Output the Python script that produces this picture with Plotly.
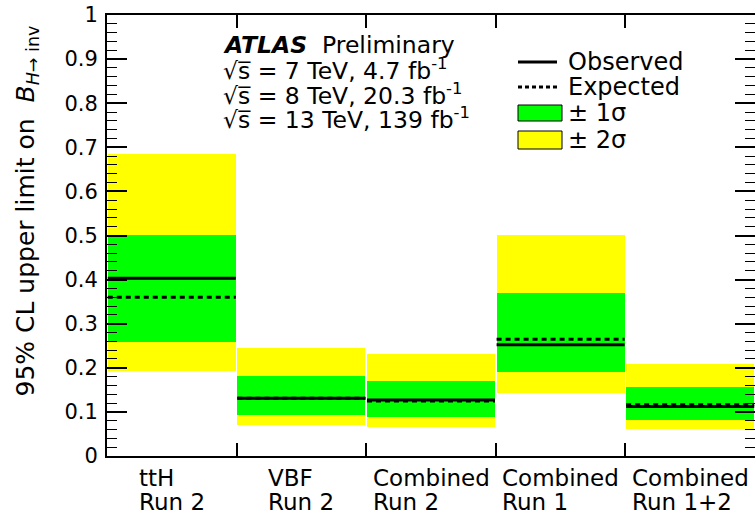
import plotly.graph_objects as go

# ---- data ----
categories = ["ttH<br>Run 2", "VBF<br>Run 2", "Combined<br>Run 2", "Combined<br>Run 1", "Combined<br>Run 1+2"]
observed = [0.403, 0.131, 0.127, 0.252, 0.112]
expected = [0.360, 0.131, 0.125, 0.265, 0.116]
band1_lo = [0.259, 0.093, 0.089, 0.191, 0.082]
band1_hi = [0.501, 0.181, 0.171, 0.370, 0.157]
band2_lo = [0.193, 0.070, 0.066, 0.142, 0.061]
band2_hi = [0.684, 0.244, 0.231, 0.501, 0.209]
y_ticks = [0, 0.1, 0.2, 0.3, 0.4, 0.5, 0.6, 0.7, 0.8, 0.9, 1]

W, H = 755, 511
ML, MR, MT, MB = 107, 0, 15, 55
PW, PH = W - ML - MR, H - MT - MB
FONT = "DejaVu Sans, Liberation Sans, Arial, sans-serif"

def px(x):
    return (x - ML) / PW

def py(y):
    return (H - MB - y) / PH

n = len(categories)
centers = [i + 0.5 for i in range(n)]
bw = 0.988

fig = go.Figure()
fig.add_trace(go.Bar(x=centers, y=[h - l for h, l in zip(band2_hi, band2_lo)], base=band2_lo,
                     width=bw, marker=dict(color="#ffff00", line=dict(width=0)), showlegend=False,
                     hoverinfo="skip"))
fig.add_trace(go.Bar(x=centers, y=[h - l for h, l in zip(band1_hi, band1_lo)], base=band1_lo,
                     width=bw, marker=dict(color="#00ff00", line=dict(width=0)), showlegend=False,
                     hoverinfo="skip"))

def seg(vals):
    xs, ys = [], []
    for c, v in zip(centers, vals):
        xs += [c - bw / 2, c + bw / 2, None]
        ys += [v, v, None]
    return xs, ys

xe, ye = seg(expected)
fig.add_trace(go.Scatter(x=xe, y=ye, mode="lines", line=dict(color="black", width=3, dash="5px,4px"),
                         showlegend=False, hoverinfo="skip"))
xo, yo = seg(observed)
fig.add_trace(go.Scatter(x=xo, y=yo, mode="lines", line=dict(color="black", width=3),
                         showlegend=False, hoverinfo="skip"))

fig.update_layout(
    width=W, height=H, margin=dict(l=ML, r=MR, t=MT, b=MB, autoexpand=False),
    paper_bgcolor="white", plot_bgcolor="white", barmode="overlay", bargap=0,
    font=dict(family=FONT, color="black", size=22),
    showlegend=False,
)
fig.update_xaxes(range=[0, n], tickvals=list(range(n + 1)), showticklabels=False,
                 ticks="inside", ticklen=13, tickwidth=1.5, tickcolor="black",
                 showline=True, linecolor="black", linewidth=2, mirror="ticks",
                 showgrid=False, zeroline=False, automargin=False)
fig.update_yaxes(range=[0, 1], tickvals=y_ticks, ticktext=[f"{v:g}" for v in y_ticks],
                 ticks="inside", ticklen=20, tickwidth=1.5, tickcolor="black",
                 minor=dict(dtick=0.02, ticklen=10, tickwidth=1.2, tickcolor="black", ticks="inside"),
                 showline=True, linecolor="black", linewidth=2, mirror="ticks",
                 showgrid=False, zeroline=False, ticklabelstandoff=3, automargin=False,
                 tickfont=dict(size=21, family=FONT))

ann = []
# category labels: two lines, block centred, lines left aligned, tight line spacing
big = "<span style='font-size:23px'>%s</span>"
for c, lab in zip(centers, categories):
    lines = lab.split("<br>")
    ann.append(dict(x=c, y=py(463), xref="x", yref="paper", xanchor="center", yanchor="top",
                    align="left", showarrow=False, font=dict(size=18.5, family=FONT),
                    text="<br>".join(big % s for s in lines)))

# y title
ann.append(dict(x=px(26), y=py(24), xref="paper", yref="paper", xanchor="center", yanchor="top",
                textangle=-90, showarrow=False, font=dict(size=25, family=FONT),
                text="95% CL upper limit on  <i>B</i><sub><i>H</i>\u2192 inv</sub>"))

# ATLAS text
info = [
    "<b><i>ATLAS</i></b>  Preliminary",
    "\u221as\u0305 = 7 TeV, 4.7 fb<sup>-1</sup>",
    "\u221as\u0305 = 8 TeV, 20.3 fb<sup>-1</sup>",
    "\u221as\u0305 = 13 TeV, 139 fb<sup>-1</sup>",
]
for k, t in enumerate(info):
    ann.append(dict(x=px(221), y=py(45 + 24.5 * k), xref="paper", yref="paper", xanchor="left",
                    yanchor="middle", showarrow=False, font=dict(size=23.5, family=FONT), text=t))

# legend
leg = ["Observed", "Expected", "\u00b1 1\u03c3", "\u00b1 2\u03c3"]
leg_y = [62, 87, 113, 140]
for t, yy in zip(leg, leg_y):
    ann.append(dict(x=px(566), y=py(yy), xref="paper", yref="paper", xanchor="left",
                    yanchor="middle", showarrow=False, font=dict(size=24, family=FONT), text=t))

shapes = [
    dict(type="line", xref="paper", yref="paper", x0=px(518), x1=px(557), y0=py(62), y1=py(62),
         line=dict(color="black", width=3)),
    dict(type="line", xref="paper", yref="paper", x0=px(518), x1=px(557), y0=py(87), y1=py(87),
         line=dict(color="black", width=3, dash="4px,3px")),
    dict(type="rect", xref="paper", yref="paper", x0=px(518), x1=px(562), y0=py(105), y1=py(121),
         fillcolor="#00ff00", line=dict(color="black", width=1)),
    dict(type="rect", xref="paper", yref="paper", x0=px(518), x1=px(562), y0=py(131), y1=py(149),
         fillcolor="#ffff00", line=dict(color="black", width=1)),
]
fig.update_layout(annotations=ann, shapes=shapes)

fig.write_html("out.html", config={"displayModeBar": False},
               post_script="document.body.style.margin='0px';document.body.style.overflow='hidden';")
